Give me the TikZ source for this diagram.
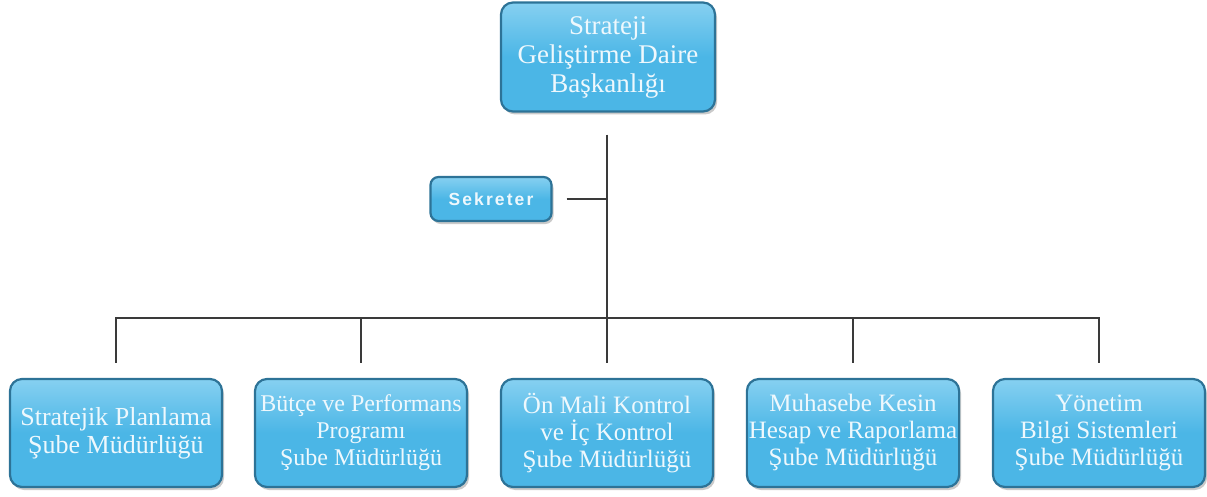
\documentclass[tikz,border=0pt]{standalone}
\usepackage{fontspec}
\setmainfont{Liberation Serif}
\newfontfamily\sekfont[LetterSpace=12]{Liberation Sans}
\usetikzlibrary{shadows}
\definecolor{boxfill}{HTML}{4BB6E6}
\definecolor{boxtop}{HTML}{86D0F1}
\definecolor{boxedge}{HTML}{2D7397}
\definecolor{linec}{HTML}{3A3A3A}
\definecolor{txt}{HTML}{EEF8FD}
\tikzset{
  unit/.style={rounded corners=12pt, draw=boxedge, line width=2.2pt,
    top color=boxtop, bottom color=boxfill, middle color=boxfill,
    shading angle=0,
    drop shadow={shadow xshift=2pt, shadow yshift=-3pt, fill=black!35, opacity=0.6},
    text=txt, align=center, font=\fontsize{25}{27}\selectfont, inner sep=2pt},
  bigbox/.style={unit, minimum width=212pt, minimum height=108pt},
  sekbox/.style={unit, rounded corners=8pt, minimum width=121pt, minimum height=44pt,
    font=\sekfont\bfseries\fontsize{17.5}{19}\selectfont},
  conn/.style={draw=linec, line width=2pt}
}
\begin{document}
\begin{tikzpicture}[x=1pt,y=-1pt]
\useasboundingbox (0,0) rectangle (1207,497);
\node[bigbox, minimum width=214pt, minimum height=109pt, font=\fontsize{27}{29}\selectfont] (top) at (608,57) {Strateji\\Geliştirme Daire\\Başkanlığı};
\node[sekbox] (sek) at (491,199) {Sekreter};
\node[bigbox, font=\fontsize{26}{28}\selectfont] (c1) at (116,433) {Stratejik Planlama\\Şube Müdürlüğü};
\node[bigbox, font=\fontsize{24}{27}\selectfont] (c2) at (361,433) {Bütçe ve Performans\\Programı\\Şube Müdürlüğü};
\node[bigbox] (c3) at (607,433) {Ön Mali Kontrol\\ve İç Kontrol\\Şube Müdürlüğü};
\node[bigbox] (c4) at (853,433) {Muhasebe Kesin\\Hesap ve Raporlama\\Şube Müdürlüğü};
\node[bigbox] (c5) at (1099,433) {Yönetim\\Bilgi Sistemleri\\Şube Müdürlüğü};
\coordinate (bus) at (607,318);
\draw[conn, shorten <=22pt, shorten >=15pt] (c3.north |- top.south) -- (c3.north);
\draw[conn, line cap=rect] (c1.north |- bus) -- (c5.north |- bus);
\foreach \c in {c1,c2,c4,c5} {
  \draw[conn, shorten >=15pt] (\c.north |- bus) -- (\c.north);
}
\draw[conn, shorten <=14pt] (sek.east) -- (sek.east -| c3.north);
\end{tikzpicture}
\end{document}
